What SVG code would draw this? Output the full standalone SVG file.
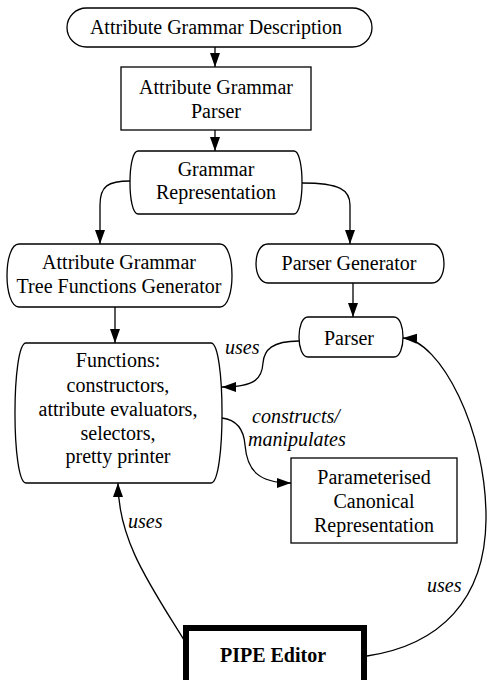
<svg xmlns="http://www.w3.org/2000/svg" width="487" height="680" viewBox="0 0 487 680">
<style>
.n{fill:#fff;stroke:#000;stroke-width:1.3}
.t{font-family:"Liberation Serif","Times New Roman",serif;font-size:20px;text-anchor:middle;fill:#000}
.l{font-family:"Liberation Serif","Times New Roman",serif;font-size:20px;font-style:italic;fill:#000}
.c{fill:none;stroke:#000;stroke-width:1.3}
</style>
<defs>
<marker id="ah" markerUnits="userSpaceOnUse" markerWidth="15" markerHeight="11" refX="14" refY="5" orient="auto">
<path d="M0,0 L14,5 L0,10 z" fill="#000"/>
</marker>
</defs>
<rect width="487" height="680" fill="#fff"/>
<g id="connectors">
<path class="c" d="M215,47 V67" marker-end="url(#ah)"/>
<path class="c" d="M215,130 V151" marker-end="url(#ah)"/>
<path class="c" d="M130,181 C108,181 100,186 100,205 V244" marker-end="url(#ah)"/>
<path class="c" d="M302,183 C340,183 350,190 350,205 V244" marker-end="url(#ah)"/>
<path class="c" d="M115,307 V343" marker-end="url(#ah)"/>
<path class="c" d="M353,283 V317" marker-end="url(#ah)"/>
<path class="c" d="M299,341 C272,341 264,350 263,363 C262,378 256,387 222,387" marker-end="url(#ah)"/>
<path class="c" d="M222,418 C238,420 244,432 245,445 C247,470 258,483 291,483" marker-end="url(#ah)"/>
<path class="c" d="M184,640 C150,585 118,540 118,483" marker-end="url(#ah)"/>
<path class="c" d="M367,656 C440,645 485,600 486,520 C487,430 440,340 403,338" marker-end="url(#ah)"/>
<text class="l" x="225" y="354">uses</text>
<text class="l" x="252" y="423">constructs/</text>
<text class="l" x="248" y="446">manipulates</text>
<text class="l" x="128" y="528">uses</text>
<text class="l" x="427" y="592">uses</text>
</g>
<g id="n1">
<rect class="n" x="67" y="8" width="305" height="39" rx="19.5"/>
<text class="t" x="216" y="34">Attribute Grammar Description</text>
</g>
<g id="n2">
<rect class="n" x="121" y="67" width="190" height="63"/>
<text class="t" x="216" y="94">Attribute Grammar</text>
<text class="t" x="216" y="118">Parser</text>
</g>
<g id="n3">
<path class="n" d="M138,151 H294 C304.7,151 304.7,214 294,214 H138 C127.3,214 127.3,151 138,151 Z"/>
<text class="t" x="216" y="176">Grammar</text>
<text class="t" x="216" y="199">Representation</text>
</g>
<g id="n4">
<path class="n" d="M19,244 H220 C236,244 236,307 220,307 H19 C3,307 3,244 19,244 Z"/>
<text class="t" x="119" y="269">Attribute Grammar</text>
<text class="t" x="119" y="293">Tree Functions Generator</text>
</g>
<g id="n5">
<path class="n" d="M268,244 H432 C448,244 448,283 432,283 H268 C252,283 252,244 268,244 Z"/>
<text class="t" x="349" y="270">Parser Generator</text>
</g>
<g id="n6">
<path class="n" d="M308,317 H394 C406,317 406,357 394,357 H308 C296,357 296,317 308,317 Z"/>
<text class="t" x="349" y="345">Parser</text>
</g>
<g id="n7">
<path class="n" d="M26,343 H211 C225.7,343 225.7,483 211,483 H26 C11.3,483 11.3,343 26,343 Z"/>
<text class="t" x="118" y="367">Functions:</text>
<text class="t" x="118" y="392">constructors,</text>
<text class="t" x="118" y="416">attribute evaluators,</text>
<text class="t" x="118" y="440">selectors,</text>
<text class="t" x="118" y="463">pretty printer</text>
</g>
<g id="n8">
<rect class="n" x="291" y="458" width="166" height="85"/>
<text class="t" x="374" y="484">Parameterised</text>
<text class="t" x="374" y="508">Canonical</text>
<text class="t" x="374" y="532">Representation</text>
</g>
<g id="n9">
<rect x="186" y="628" width="178" height="80" fill="#fff" stroke="#000" stroke-width="6"/>
<text class="t" x="273" y="662" font-weight="bold">PIPE Editor</text>
</g>
</svg>
